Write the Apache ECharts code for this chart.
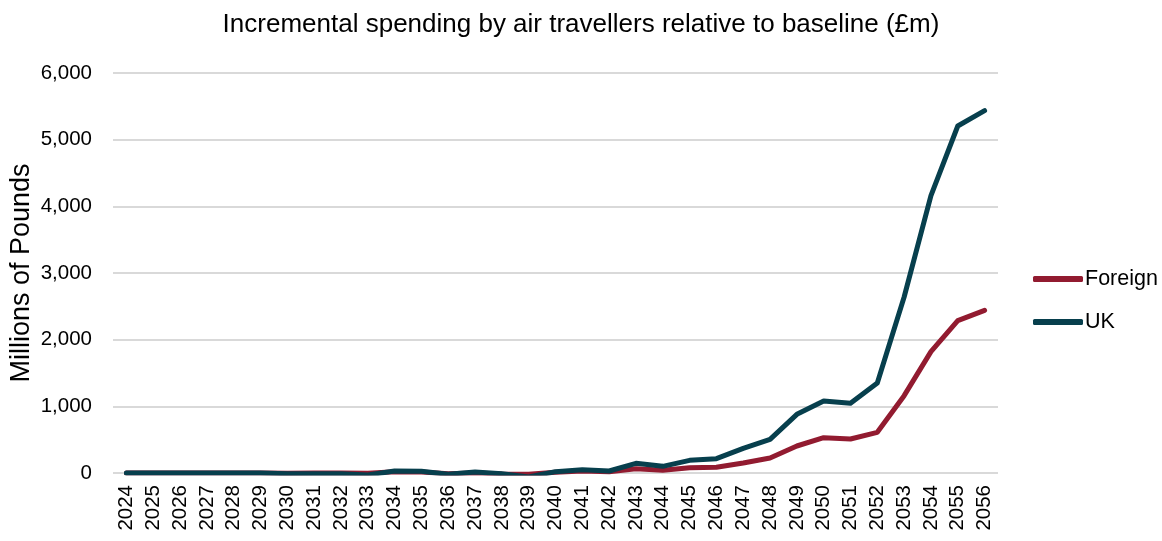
<!DOCTYPE html>
<html>
<head>
<meta charset="utf-8">
<script src="https://cdn.jsdelivr.net/npm/echarts@6/dist/echarts.min.js"></script>
<style>
  html, body { margin: 0; padding: 0; background: #fff; }
  #chart { width: 1162px; height: 541px; }
</style>
</head>
<body>
<div id="chart"></div>
<script>
// Years on the category axis
const years = [
  '2024','2025','2026','2027','2028','2029','2030','2031','2032','2033','2034',
  '2035','2036','2037','2038','2039','2040','2041','2042','2043','2044','2045',
  '2046','2047','2048','2049','2050','2051','2052','2053','2054','2055','2056'
];

// Incremental spending, £m
const foreign = [
  0, 0, 0, 0, 0, 0, -5, 0, 0, -5, 20,
  15, -10, 0, -15, -20, 10, 30, 20, 65, 40, 80,
  85, 150, 225, 405, 530, 510, 610, 1160, 1820, 2285, 2440
];
const uk = [
  0, 0, 0, 0, 0, 0, -10, -10, -10, -30, 30,
  25, -20, 15, -10, -60, 20, 50, 30, 145, 100, 190,
  215, 370, 505, 880, 1080, 1045, 1350, 2640, 4160, 5205, 5435
];

const chart = echarts.init(document.getElementById('chart'));
const font = 'Liberation Sans, Arial, sans-serif';

chart.setOption({
  animation: false,
  title: {
    text: 'Incremental spending by air travellers relative to baseline (£m)',
    left: 576, top: 7, textAlign: 'center',
    textStyle: { fontFamily: font, fontSize: 26, fontWeight: 'normal', color: '#000' }
  },
  legend: {
    orient: 'vertical',
    left: 1033, top: 268, padding: 0,
    itemWidth: 50, itemHeight: 6, itemGap: 21,
    icon: 'roundRect',
    textStyle: { fontFamily: font, fontSize: 21.5, color: '#000', padding: [0, 0, 0, -3] },
    data: ['Foreign', 'UK']
  },
  grid: {
    left: 113, right: 164, top: 73, bottom: 68,
    containLabel: false, outerBoundsMode: 'none'
  },
  xAxis: {
    type: 'category',
    data: years,
    boundaryGap: true,
    axisLine: { show: false },
    axisTick: { show: false },
    axisLabel: {
      rotate: 90, interval: 0, margin: 12,
      fontFamily: font, fontSize: 20.5, color: '#000'
    }
  },
  yAxis: {
    type: 'value',
    min: 0, max: 6000, interval: 1000,
    name: 'Millions of Pounds',
    nameLocation: 'middle', nameGap: 78, nameMoveOverlap: false,
    nameTextStyle: { fontFamily: font, fontSize: 27, color: '#000' },
    axisLine: { show: false },
    axisTick: { show: false },
    splitLine: { lineStyle: { color: '#d9d9d9', width: 2 } },
    axisLabel: {
      margin: 21, fontFamily: font, fontSize: 20.5, color: '#000',
      formatter: v => v.toLocaleString('en-GB')
    }
  },
  series: [
    {
      name: 'Foreign', type: 'line', data: foreign,
      symbol: 'none', color: '#921B30',
      lineStyle: { width: 5, cap: 'round', join: 'round' }
    },
    {
      name: 'UK', type: 'line', data: uk,
      symbol: 'none', color: '#073F4D',
      lineStyle: { width: 5, cap: 'round', join: 'round' }
    }
  ]
});
</script>
</body>
</html>
